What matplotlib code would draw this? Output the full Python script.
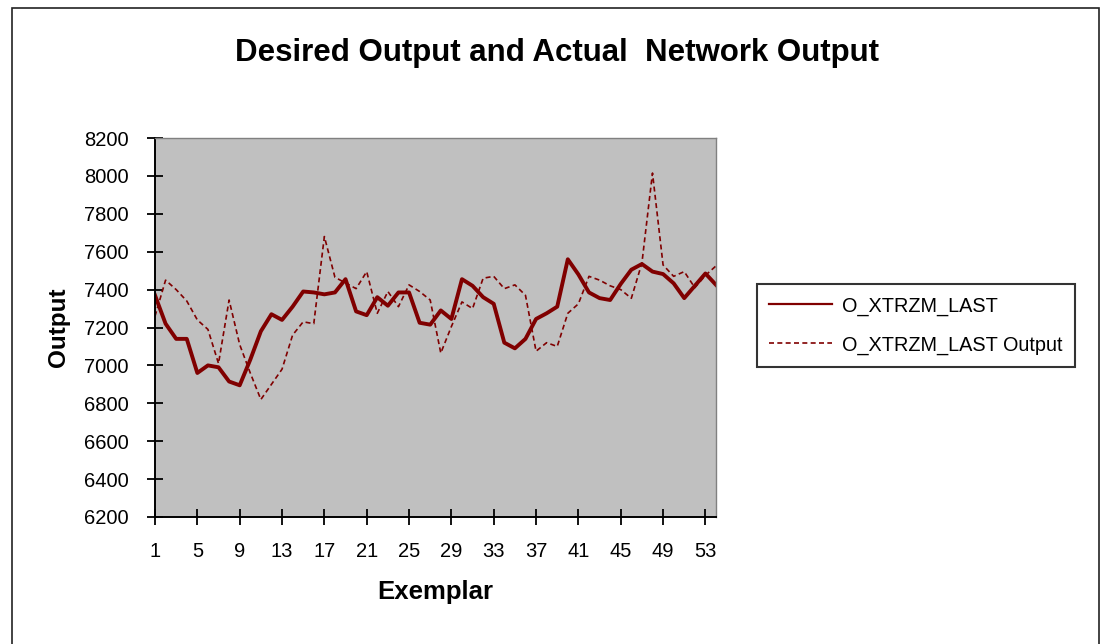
import matplotlib.pyplot as plt
from matplotlib.patches import Rectangle

# values
exemplar = list(range(1, 55))
desired = [7370, 7220, 7140, 7140, 6960, 7000, 6990, 6915, 6895, 7030,
           7180, 7270, 7240, 7310, 7390, 7385, 7375, 7385, 7455, 7285,
           7265, 7360, 7315, 7385, 7385, 7225, 7215, 7290, 7245, 7455,
           7420, 7360, 7325, 7120, 7090, 7140, 7245, 7275, 7310, 7560,
           7480, 7385, 7355, 7345, 7430, 7505, 7535, 7495, 7482, 7433,
           7355, 7420, 7485, 7425]
network = [7260, 7450, 7400, 7340, 7240, 7190, 7010, 7345, 7110, 6960,
           6820, 6900, 6980, 7160, 7230, 7220, 7680, 7465, 7435, 7405,
           7495, 7275, 7390, 7310, 7425, 7390, 7345, 7065, 7205, 7335,
           7300, 7460, 7470, 7405, 7425, 7370, 7075, 7120, 7100, 7275,
           7325, 7470, 7450, 7420, 7400, 7354, 7540, 8015, 7530, 7470,
           7495, 7410, 7475, 7525]
x_ticks = list(range(1, 54, 4))
y_ticks = list(range(6200, 8201, 200))

plt.rcParams['font.family'] = ['Liberation Sans', 'DejaVu Sans']

fig = plt.figure(figsize=(11.04, 6.44), dpi=100)
fig.patch.set_facecolor('white')

# outer chart border
fig.patches.append(Rectangle((12 / 1104, -0.05), 1087 / 1104, 1 - 8 / 644 + 0.05,
                             transform=fig.transFigure, fill=False,
                             edgecolor='#222222', linewidth=1.2))

ax = fig.add_axes([155 / 1104, 1 - 517 / 644, (716 - 155) / 1104, (517 - 138) / 644])
ax.set_facecolor('#c0c0c0')

colour = '#800000'
ax.plot(exemplar, desired, color=colour, linewidth=2.8, label='O_XTRZM_LAST')
ax.plot(exemplar, network, color=colour, linewidth=1.2, linestyle=(0, (3, 2)),
        label='O_XTRZM_LAST Output')

ax.set_xlim(1, 54)
ax.set_ylim(6200, 8200)
ax.set_xticks(x_ticks)
ax.set_yticks(y_ticks)
ax.tick_params(direction='inout', length=12, width=1.3, labelsize=14.5, colors='black')
ax.tick_params(axis='x', pad=12)
ax.tick_params(axis='y', pad=13)

for side in ['top', 'right']:
    ax.spines[side].set_color('#808080')
    ax.spines[side].set_linewidth(1.0)
for side in ['left', 'bottom']:
    ax.spines[side].set_color('black')
    ax.spines[side].set_linewidth(1.4)

ax.set_xlabel('Exemplar', fontsize=18.5, fontweight='bold', labelpad=14)
ax.set_ylabel('Output', fontsize=17.5, fontweight='bold', labelpad=10)

fig.text(557 / 1104, 1 - 53 / 644, 'Desired Output and Actual  Network Output',
         ha='center', va='center', fontsize=22.5, fontweight='bold')

leg = ax.legend(loc='center left', bbox_to_anchor=(757 / 1104, 1 - 325.5 / 644),
                bbox_transform=fig.transFigure, borderaxespad=0, fontsize=14.3,
                frameon=True, fancybox=False, edgecolor='black', handlelength=3.2,
                labelspacing=1.0, borderpad=0.6, handletextpad=0.5)
leg.get_frame().set_linewidth(1.5)
leg.get_lines()[0].set_linewidth(1.6)

plt.savefig('out.png', dpi=100)
